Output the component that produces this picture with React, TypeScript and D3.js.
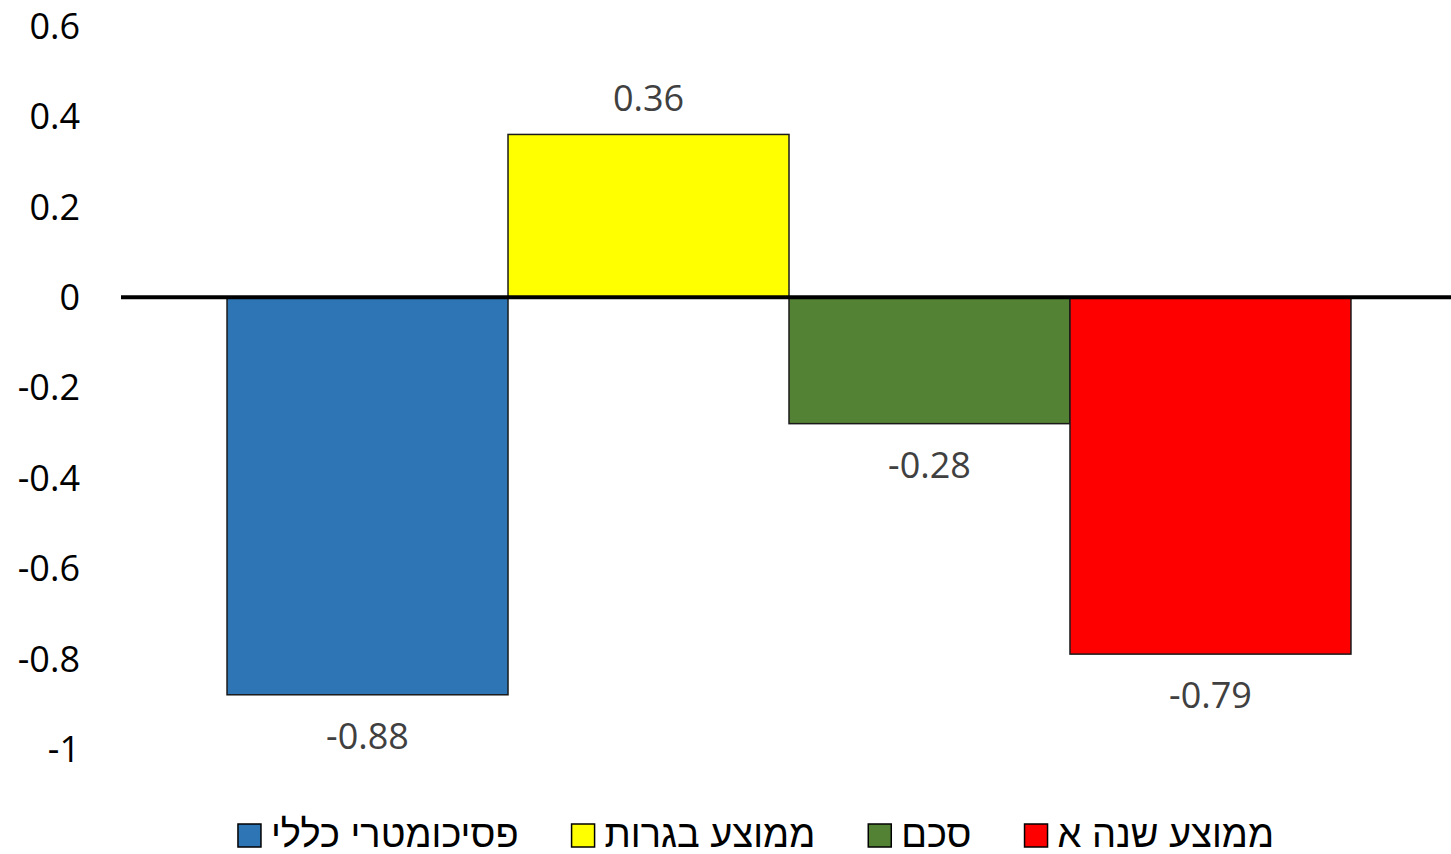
import React, { useMemo } from "react";
import * as d3 from "d3";

const seriesNames = ["פסיכומטרי כללי", "ממוצע בגרות", "סכם", "ממוצע שנה א"];
const seriesValues = [-0.88, 0.36, -0.28, -0.79];
const seriesColors = ["#2E75B6", "#FFFF00", "#548235", "#FF0000"];
const yTicks = [0.6, 0.4, 0.2, 0, -0.2, -0.4, -0.6, -0.8, -1];

const W = 1451;
const H = 854;
const FONT = "'Open Sans', sans-serif";
const FS = 36;
const LEG_FONT = "'Liberation Sans', Arial, sans-serif";
const LEG_FS = 38;

function measure(text: string, size: number): number {
  const c = document.createElement("canvas");
  const ctx = c.getContext("2d");
  if (!ctx) return text.length * size * 0.5;
  ctx.font = `${size}px 'Liberation Sans'`;
  return ctx.measureText(text).width;
}

export default function App() {
  const y = d3.scaleLinear().domain([-1, 0.6]).range([749, 26]);
  const x0 = d3
    .scaleBand<string>()
    .domain(["g"])
    .range([127, 1451])
    .paddingInner(0)
    .paddingOuter(0.089);
  const x1 = d3
    .scaleBand<string>()
    .domain(seriesNames)
    .range([x0("g") as number, (x0("g") as number) + x0.bandwidth()])
    .padding(0);

  const legend = useMemo(() => {
    const sq = 23;
    const gap = 10;
    const itemGap = 53;
    const widths = seriesNames.map((n) => measure(n, LEG_FS));
    const total =
      widths.reduce((a, b) => a + b, 0) +
      seriesNames.length * (sq + gap) +
      (seriesNames.length - 1) * itemGap;
    let cx = 756 - total / 2;
    return seriesNames.map((n, i) => {
      const item = { name: n, x: cx, tx: cx + sq + gap, color: seriesColors[i] };
      cx += sq + gap + widths[i] + itemGap;
      return item;
    });
  }, []);

  return (
    <svg
      width={W}
      height={H}
      style={{ position: "absolute", left: 0, top: 0, background: "#fff" }}
      fontFamily={FONT}
    >
      {yTicks.map((t) => (
        <text
          key={t}
          x={80}
          y={y(t)}
          dy="0.36em"
          textAnchor="end"
          fontSize={FS}
          fill="#000"
        >
          {d3.format("")(t).replace("−", "-")}
        </text>
      ))}
      {seriesNames.map((n, i) => {
        const v = seriesValues[i];
        const bx = x1(n) as number;
        const top = y(Math.max(0, v));
        const bot = y(Math.min(0, v));
        return (
          <g key={n}>
            <rect
              x={bx}
              y={top}
              width={x1.bandwidth()}
              height={bot - top}
              fill={seriesColors[i]}
              stroke="#1a1a1a"
              strokeWidth={1.5}
            />
            <text
              x={bx + x1.bandwidth() / 2}
              y={v >= 0 ? top - 23 : bot + 54}
              textAnchor="middle"
              fontSize={FS}
              fill="#404040"
            >
              {String(v)}
            </text>
          </g>
        );
      })}
      <line x1={121} x2={1451} y1={y(0)} y2={y(0)} stroke="#000" strokeWidth={4} />
      {legend.map((l) => (
        <g key={l.name}>
          <rect
            x={l.x}
            y={824}
            width={23}
            height={23}
            fill={l.color}
            stroke="#000"
            strokeWidth={1.5}
          />
          <text x={l.tx} y={847} fontSize={LEG_FS} fontFamily={LEG_FONT} fill="#000">
            {l.name}
          </text>
        </g>
      ))}
    </svg>
  );
}
